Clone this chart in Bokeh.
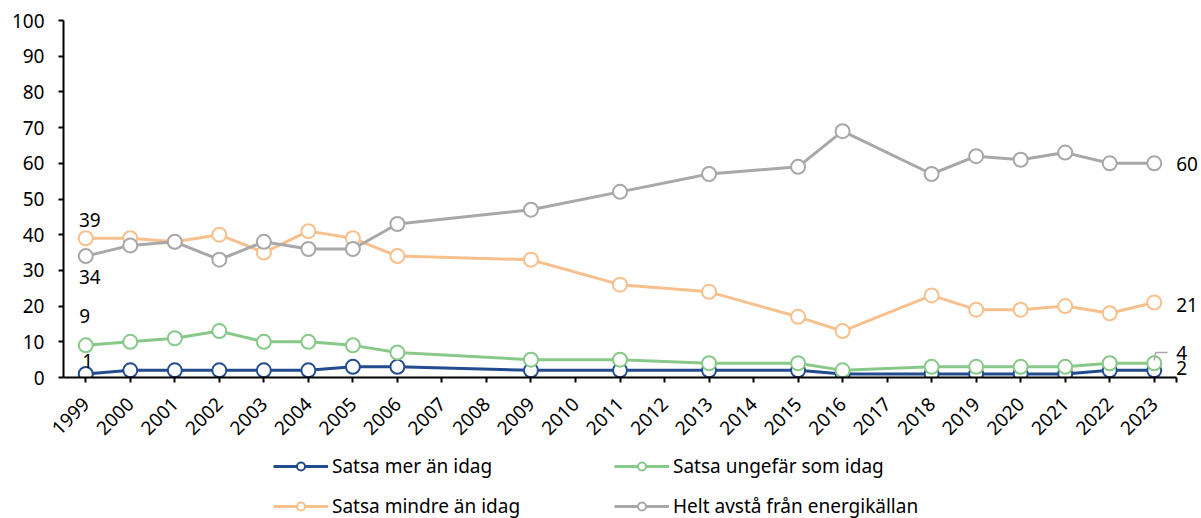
from math import pi
from bokeh.plotting import figure
from bokeh.layouts import column
from bokeh.models import (Range1d, FixedTicker, Legend, LegendItem, ColumnDataSource)
from bokeh.core.properties import value
from bokeh.embed import file_html
from bokeh.resources import INLINE

# ---- data ----
years_all = [str(y) for y in range(1999, 2024)]
years_data = ["1999", "2000", "2001", "2002", "2003", "2004", "2005", "2006", "2009",
              "2011", "2013", "2015", "2016", "2018", "2019", "2020", "2021", "2022", "2023"]
mer = [1, 2, 2, 2, 2, 2, 3, 3, 2, 2, 2, 2, 1, 1, 1, 1, 1, 2, 2]
ungefar = [9, 10, 11, 13, 10, 10, 9, 7, 5, 5, 4, 4, 2, 3, 3, 3, 3, 4, 4]
mindre = [39, 39, 38, 40, 35, 41, 39, 34, 33, 26, 24, 17, 13, 23, 19, 19, 20, 18, 21]
avsta = [34, 37, 38, 33, 38, 36, 36, 43, 47, 52, 57, 59, 69, 57, 62, 61, 63, 60, 60]
series_names = ["Satsa mer än idag", "Satsa ungefär som idag",
                "Satsa mindre än idag", "Helt avstå från energikällan"]
colors = ["#234C8E", "#88C98A", "#F8C08C", "#A8A8A8"]

FONT = "Noto Sans"
FS = "19px"
W = 1201
LEFT = 63
AXIS_RIGHT = 1176
n = len(years_all)
unit = (AXIS_RIGHT - LEFT) / n
x_end = -0.5 + (W - LEFT) / unit

xs = [years_all.index(y) for y in years_data]

p = figure(width=W, height=449, x_range=Range1d(-0.5, x_end), y_range=Range1d(0, 100),
           output_backend="svg", toolbar_location=None,
           min_border_left=LEFT, min_border_right=0, min_border_top=20, min_border_bottom=72)
p.xgrid.visible = False
p.ygrid.visible = False
p.outline_line_color = None

# axes
p.yaxis.ticker = FixedTicker(ticks=list(range(0, 101, 10)))
p.xaxis.ticker = FixedTicker(ticks=list(range(n)) + [n - 0.5])
p.xaxis.bounds = (-0.5, n - 0.5)
ov = {i: y for i, y in enumerate(years_all)}
ov[n - 0.5] = ""
p.xaxis.major_label_overrides = ov
p.xaxis.major_label_orientation = pi / 4
for ax in (p.xaxis, p.yaxis):
    ax.axis_line_color = "black"
    ax.axis_line_width = 2
    ax.major_tick_line_color = "black"
    ax.major_tick_line_width = 2
    ax.major_tick_out = 5
    ax.major_tick_in = 0
    ax.minor_tick_line_color = None
    ax.major_label_text_font = FONT
    ax.major_label_text_font_size = FS
    ax.major_label_text_color = "black"
p.yaxis.major_label_standoff = 14
p.xaxis.major_label_standoff = 18

for name, vals, col in zip(series_names, [mer, ungefar, mindre, avsta], colors):
    src = ColumnDataSource(dict(x=xs, y=vals))
    p.line("x", "y", source=src, line_color=col, line_width=3)
    p.scatter("x", "y", source=src, marker="circle", size=14, fill_color="white",
              line_color=col, line_width=2)

# data labels (first year)
left_src = ColumnDataSource(dict(
    x=[xs[0]] * 4,
    y=[mindre[0], avsta[0], ungefar[0], mer[0]],
    text=[str(mindre[0]), str(avsta[0]), str(ungefar[0]), str(mer[0])],
    xo=[4, 4, -1, 2],
    yo=[-18, 21, -29, -13],
))
p.text("x", "y", text="text", source=left_src, x_offset="xo", y_offset="yo",
       text_font=value(FONT), text_font_size=FS, text_align="center",
       text_baseline="middle", text_color="black")

# data labels (last year)
right_src = ColumnDataSource(dict(
    x=[xs[-1]] * 4,
    y=[avsta[-1], mindre[-1], ungefar[-1], mer[-1]],
    text=[str(avsta[-1]), str(mindre[-1]), str(ungefar[-1]), str(mer[-1])],
    yo=[1, 2, -10, -2],
))
p.text("x", "y", text="text", source=right_src, x_offset=22, y_offset="yo",
       text_font=value(FONT), text_font_size=FS, text_align="left",
       text_baseline="middle", text_color="black")

# leader line for the "4" label
lx = xs[-1]
ly = ungefar[-1]
p.line([lx, lx + 0.03, lx + 0.3], [ly + 0.8, ly + 3.0, ly + 3.0],
       line_color="#A8A8A8", line_width=1.5)

# legend in a separate strip below
QH = 69
q = figure(width=W, height=QH, x_range=Range1d(0, 1), y_range=Range1d(0, 1),
           output_backend="svg", toolbar_location=None,
           x_axis_location=None, y_axis_location=None,
           min_border_left=LEFT, min_border_right=0,
           min_border_top=0, min_border_bottom=0)
q.xgrid.visible = False
q.ygrid.visible = False
q.outline_line_color = None
items = []
for name, col in zip(series_names, colors):
    ln = q.line(x=[-10, -9], y=[-10, -10], line_color=col, line_width=3)
    sc = q.scatter(x=[-10], y=[-10], marker="circle", size=11, fill_color="white",
                   line_color=col, line_width=2)
    items.append(LegendItem(label=name, renderers=[ln, sc]))

legend = Legend(items=items, ncols=2, orientation="horizontal", location=(273 - LEFT, -8),
                glyph_width=55, glyph_height=20, label_standoff=4, label_width=282,
                label_height=40, spacing=0, padding=0, margin=0,
                label_text_font=FONT, label_text_font_size=FS, label_text_color="black",
                border_line_color=None, background_fill_alpha=0)
q.add_layout(legend, "center")

layout = column(p, q, spacing=0)
open("out.html", "w").write(file_html(layout, INLINE))
